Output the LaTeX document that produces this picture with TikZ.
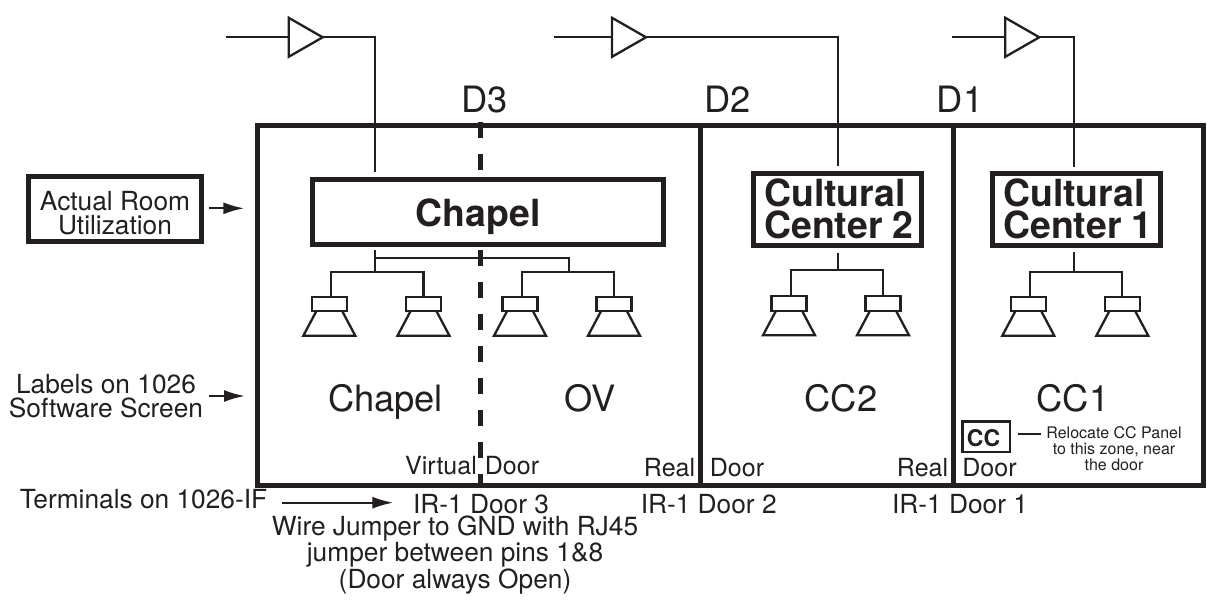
\documentclass[tikz,border=0pt]{standalone}
\usepackage{fontspec}
\usepackage{xcolor}
\setmainfont{TeX Gyre Heros}
\usetikzlibrary{arrows.meta,shapes.geometric}
\definecolor{inkblack}{HTML}{231F20}
\tikzset{
  wire/.style={line width=2.3pt},
  wall/.style={line width=5pt},
  pointer/.style={line width=2.3pt,-{Latex[length=21pt,width=12pt]}},
  amp/.style={draw,line width=2.3pt,isosceles triangle,isosceles triangle stretches,
    minimum width=39pt,minimum height=34pt,inner sep=0pt,outer sep=0pt,anchor=apex},
  magnet/.style={draw,line width=2.3pt,minimum width=35pt,minimum height=14.5pt,inner sep=0pt,outer sep=0pt},
  cone/.style={line width=2.3pt},
  roombox/.style={draw,fill=white,line width=5pt,inner sep=0pt,outer sep=0pt},
  roomtext/.style={font=\bfseries\fontsize{37.4}{32.3}\selectfont,align=left,anchor=base,inner sep=0pt},
  bigtext/.style={font=\fontsize{36.3}{36}\selectfont,anchor=base,inner sep=0pt},
  midtext/.style={font=\fontsize{26.3}{24}\selectfont,align=center,anchor=base,inner sep=0pt},
  doortext/.style={font=\fontsize{25}{25}\selectfont,anchor=base,inner sep=0pt},
  smalltext/.style={font=\fontsize{16}{16.3}\selectfont,align=center,anchor=base,inner sep=0pt},
}
\begin{document}
\begin{tikzpicture}[x=1pt,y=-1pt,color=inkblack]
\useasboundingbox (0,0) rectangle (1209,604);

\draw[wall] (257.5,125.5) rectangle (1203,485);
\draw[wall] (700.7,125.5) -- (700.7,485);
\draw[wall] (953.3,125.5) -- (953.3,485);
\draw[wall,dash pattern=on 16pt off 16pt] (480.3,122) -- (480.3,487);

% boxes
\node[roombox,minimum width=350.5pt,minimum height=64pt] (chapelbox) at (487.8,212) {};
\node[roombox,minimum width=168.5pt,minimum height=71.5pt] (cctwobox) at (837.3,209.3) {};
\node[roombox,minimum width=168.5pt,minimum height=71.5pt] (cconebox) at (1076.3,209.3) {};
\node[roombox,minimum width=173.5pt,minimum height=64pt] (actualbox) at (115.2,209) {};
\node[roomtext] (chapeltext) at (478.3,226) {Chapel};
\node[roomtext] (cctwotext) at (839,238.3) {Cultural\\Center 2};
\node[roomtext] (cconetext) at (1078,238.3) {Cultural\\Center 1};
\node[midtext] (actualtext) at (115,234) {Actual Room\\Utilization};

% amps
\node[amp] (ampchapel) at (322.7,37.3) {};
\node[amp] (ampcctwo) at (646,37.3) {};
\node[amp] (ampccone) at (1039.3,37.3) {};
\coordinate (inchapel) at (225.7,37.3);
\coordinate (incctwo) at (554,37.3);
\coordinate (inccone) at (952,37.3);
\coordinate (feedchapel) at (375,171.7);
\coordinate (feedcctwo) at (837.7,165.7);
\coordinate (feedccone) at (1073.7,166.7);
\draw[wire] (inchapel) -- (ampchapel.lower side);
\draw[wire] (incctwo) -- (ampcctwo.lower side);
\draw[wire] (inccone) -- (ampccone.lower side);
\draw[wire] (ampchapel.apex) -| (feedchapel);
\draw[wire] (ampcctwo.apex) -| (feedcctwo);
\draw[wire] (ampccone.apex) -| (feedccone);

% speakers
\node[magnet] (spka) at (329.3,304) {};
\node[magnet] (spkb) at (423.5,304) {};
\node[magnet] (spkc) at (520,304) {};
\node[magnet] (spkd) at (614,304) {};
\node[magnet] (spke) at (789,303.5) {};
\node[magnet] (spkf) at (883,303.5) {};
\node[magnet] (spkg) at (1028.3,304) {};
\node[magnet] (spkh) at (1122.3,304) {};
\foreach \spk in {spka,spkb,spkc,spkd,spke,spkf,spkg,spkh}
  \draw[cone] ([xshift=-13pt]\spk.south) -- ([xshift=-26pt,yshift=-24.5pt]\spk.south)
    -- ([xshift=26pt,yshift=-24.5pt]\spk.south) -- ([xshift=13pt]\spk.south);

\coordinate (stubchapel) at (375,250);
\coordinate (teechapel) at (375,271.7);
\coordinate (stubover) at (375,258.3);
\coordinate (teeover) at (569,271.7);
\coordinate (stubcctwo) at (837.7,253.3);
\coordinate (teecctwo) at (837.7,270);
\coordinate (stubccone) at (1073.7,252.3);
\coordinate (teeccone) at (1073.7,271.7);
\draw[wire] (stubchapel) -- (teechapel);
\draw[wire] (stubover) -| (teeover);
\draw[wire] ([xshift=1.7pt]spka.north) |- (teechapel) -| (spkb.north);
\draw[wire] ([xshift=1.7pt]spkc.north) |- (teeover) -| (spkd.north);
\draw[wire] ([xshift=1.7pt]spke.north) |- (teecctwo) -| (spkf.north);
\draw[wire] ([xshift=1.7pt]spkg.north) |- (teeccone) -| (spkh.north);
\draw[wire] (stubcctwo) -- (teecctwo);
\draw[wire] (stubccone) -- (teeccone);

% labels
\node[bigtext] (dthree) at (484.3,112.7) {D3};
\node[bigtext] (dtwo) at (727.5,112.7) {D2};
\node[bigtext] (done) at (960,112.7) {D1};
\node[bigtext] (chapellabel) at (385.5,411) {Chapel};
\node[bigtext] (ovlabel) at (590,411) {OV};
\node[bigtext] (cctwolabel) at (841,411) {CC2};
\node[bigtext] (cconelabel) at (1073,411) {CC1};
\node[midtext] (softlabel) at (106,417) {Labels on 1026\\Software Screen};
\node[midtext] (termlabel) at (143.5,508) {Terminals on 1026-IF};
\node[midtext] (irthree) at (481,513.3) {IR-1 Door 3};
\node[midtext] (irtwo) at (708.7,513.3) {IR-1 Door 2};
\node[midtext] (irone) at (960,513.3) {IR-1 Door 1};
\node[midtext] (jumpertext) at (455,588) {Wire Jumper to GND with RJ45\\jumper between pins 1\&8\\(Door always Open)};
\node[doortext] (virtual) at (441,474) {Virtual};
\node[doortext] (doorthree) at (512,474) {Door};
\node[doortext] (realtwo) at (669.5,476.7) {Real};
\node[doortext] (doortwo) at (737,476.7) {Door};
\node[doortext] (realone) at (922.5,476.7) {Real};
\node[doortext] (doorone) at (989.5,476.7) {Door};

% panel
\node[draw,line width=2.8pt,minimum width=47.5pt,minimum height=30.5pt,inner sep=0pt,outer sep=0pt] (ccpanel) at (986.3,436.7) {};
\node[anchor=base,inner sep=0pt,font=\bfseries\fontsize{23}{24}\selectfont] (cctext) at (983.5,446) {CC};
\coordinate (noteend) at (1040.7,433.7);
\draw[wire] ([xshift=7.7pt,yshift=3pt]ccpanel.east) -- (noteend);
\node[smalltext] (notetext) at (1114,470.7) {Relocate CC Panel\\to this zone, near\\the door};

% arrows
\coordinate (actualtip) at (244.3,208.3);
\coordinate (softfrom) at (208.6,396);
\coordinate (softtip) at (245,396);
\coordinate (termfrom) at (282.4,502.7);
\coordinate (termtip) at (393.4,502.7);
\draw[pointer] ([xshift=7pt,yshift=0.7pt]actualbox.east) -- (actualtip);
\draw[pointer] (softfrom) -- (softtip);
\draw[pointer] (termfrom) -- (termtip);
\end{tikzpicture}
\end{document}
